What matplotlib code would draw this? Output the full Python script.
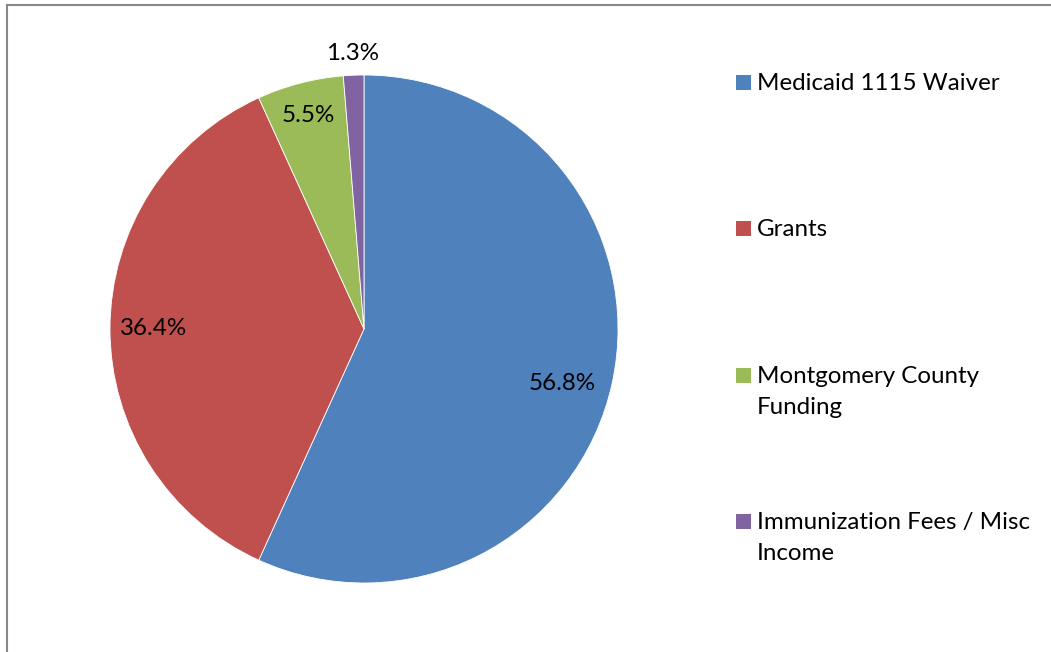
import numpy as np
import matplotlib
matplotlib.use("Agg")
import matplotlib.pyplot as plt
from matplotlib.patches import Rectangle
from matplotlib.lines import Line2D

plt.rcParams['font.family'] = ['Lato', 'DejaVu Sans']

# Revenue share by source
sources = ["Medicaid 1115 Waiver", "Grants", "Montgomery County\nFunding",
           "Immunization Fees / Misc\nIncome"]
shares = [56.8, 36.4, 5.5, 1.3]
colors = ["#4F81BD", "#C0504D", "#9BBB59", "#8064A2"]

# percentage label placement: radius (fraction of pie radius), angle shift in degrees
label_radius = [0.81, 0.83, 0.87, 1.085]
label_shift = [-3.0, 0.0, 0.0, 0.0]

W, H = 1051, 652
fig = plt.figure(figsize=(W / 100, H / 100), dpi=100)

# chart frame (top and left edges visible)
fig.add_artist(Line2D([6.5 / W, 6.5 / W], [0, 1 - 4.5 / H], color="#888888", lw=1.5,
                      transform=fig.transFigure))
fig.add_artist(Line2D([6.5 / W, 1], [1 - 4.5 / H, 1 - 4.5 / H], color="#888888", lw=1.5,
                      transform=fig.transFigure))

cx, cy, r = 364, 652 - 329, 254
ax = fig.add_axes([(cx - r) / W, (cy - r) / H, 2 * r / W, 2 * r / H])
wedges, _ = ax.pie(shares, colors=colors, startangle=90, counterclock=False,
                   wedgeprops=dict(edgecolor="white", linewidth=0.6))
ax.set_xlim(-1, 1)
ax.set_ylim(-1, 1)
ax.set_aspect("equal")
ax.axis("off")

for w, val, rad, sh in zip(wedges, shares, label_radius, label_shift):
    mid = np.deg2rad((w.theta1 + w.theta2) / 2 + sh)
    ax.text(rad * np.cos(mid), rad * np.sin(mid), f"{val:.1f}%",
            ha="center", va="center", fontsize=17.4, color="black", clip_on=False)

# legend entries, evenly spaced from the top (first-line baselines)
base0, step = 90, 146.3
for i, (name, c) in enumerate(zip(sources, colors)):
    yb = base0 + i * step
    fig.add_artist(Rectangle((736 / W, 1 - yb / H), 15 / W, 15 / H,
                             facecolor=c, edgecolor="none", transform=fig.transFigure))
    lines = name.split("\n")
    for j, line in enumerate(lines):
        fig.text(757 / W, 1 - (yb + 31 * j) / H, line, ha="left", va="baseline",
                 fontsize=17.4, color="black")

fig.savefig("out.png", dpi=100, facecolor="white")
